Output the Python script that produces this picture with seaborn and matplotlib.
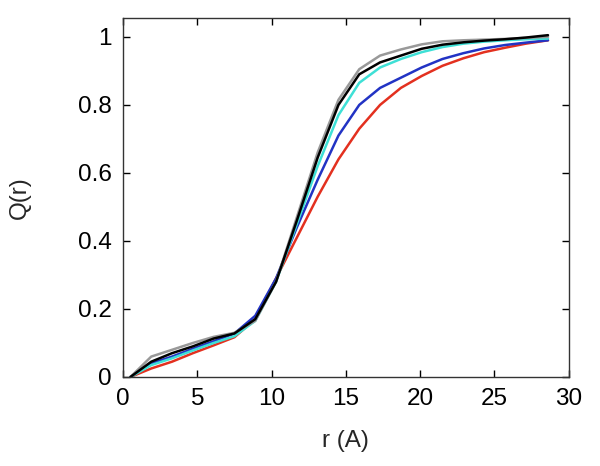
import pandas as pd
import matplotlib
matplotlib.use('Agg')
import matplotlib.pyplot as plt
import seaborn as sns

sns.set_theme(style='ticks')
plt.rcParams['font.family'] = ['Liberation Sans', 'DejaVu Sans']

# r 网格 (A)
r = [0.5, 1.9, 3.3, 4.7, 6.1, 7.5, 8.9, 10.3, 11.7, 13.1, 14.5,
     15.9, 17.3, 18.7, 20.1, 21.5, 22.9, 24.3, 25.7, 27.1, 28.6]

# 各曲线 Q(r)
q_gray = [0, 0.06, 0.08, 0.10, 0.118, 0.13, 0.165, 0.28, 0.47, 0.66, 0.815,
          0.905, 0.945, 0.963, 0.978, 0.987, 0.99, 0.992, 0.994, 0.997, 1.0]
q_black = [0, 0.045, 0.07, 0.09, 0.113, 0.128, 0.17, 0.28, 0.46, 0.645, 0.80,
           0.89, 0.925, 0.945, 0.965, 0.977, 0.984, 0.989, 0.993, 0.998, 1.005]
q_cyan = [0, 0.035, 0.055, 0.078, 0.10, 0.12, 0.165, 0.28, 0.45, 0.62, 0.77,
          0.865, 0.91, 0.935, 0.955, 0.97, 0.98, 0.986, 0.99, 0.993, 0.995]
q_blue = [0, 0.04, 0.06, 0.083, 0.105, 0.128, 0.18, 0.29, 0.44, 0.58, 0.71,
          0.80, 0.85, 0.88, 0.91, 0.935, 0.952, 0.966, 0.976, 0.983, 0.99]
q_red = [0, 0.025, 0.045, 0.07, 0.093, 0.117, 0.17, 0.29, 0.41, 0.53, 0.64,
         0.73, 0.80, 0.85, 0.885, 0.915, 0.937, 0.955, 0.968, 0.98, 0.99]

series = {'red': q_red, 'blue': q_blue, 'cyan': q_cyan, 'gray': q_gray, 'black': q_black}
colors = {'red': '#e3301f', 'blue': '#2233c4', 'cyan': '#3ee0d6',
          'gray': '#999999', 'black': '#000000'}

df = pd.concat([pd.DataFrame({'r': r, 'Q': v, 'set': k}) for k, v in series.items()])

fig = plt.figure(figsize=(6, 4.66), dpi=100)
ax = fig.add_axes([0.205, 0.191, 0.743, 0.77])
sns.lineplot(data=df, x='r', y='Q', hue='set', palette=colors, linewidth=1.8,
             legend=False, ax=ax, sort=False)

ax.set_xlim(0, 30)
ax.set_ylim(0, 1.055)
ax.set_xticks([0, 5, 10, 15, 20, 25, 30])
ax.set_yticks([0, 0.2, 0.4, 0.6, 0.8, 1.0])
ax.set_yticklabels(['0', '0.2', '0.4', '0.6', '0.8', '1'])
ax.tick_params(direction='in', length=5, width=1, top=True, right=True,
               labelsize=17.5, colors='black', pad=8)
for s in ax.spines.values():
    s.set_linewidth(1)
    s.set_color('#333333')
ax.set_xlabel('r (A)', fontsize=17.5, labelpad=14)
ax.set_ylabel('Q(r)', fontsize=17.5, labelpad=34)

fig.savefig('out.png', dpi=100)
plt.close()
